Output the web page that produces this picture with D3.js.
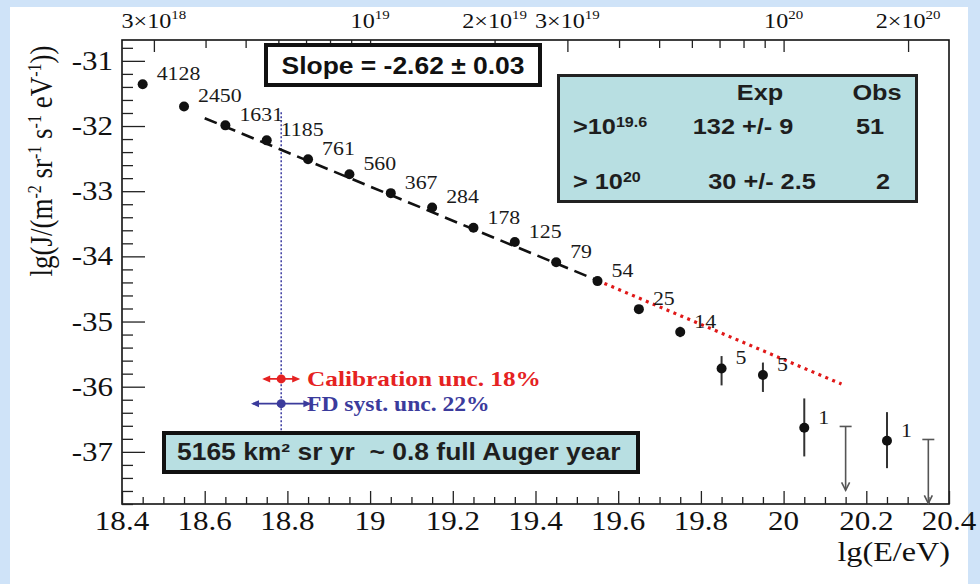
<!DOCTYPE html>
<html>
<head>
<meta charset="utf-8">
<script src="https://cdn.jsdelivr.net/npm/d3@7"></script>
<style>
  body { margin: 0; background: #cfe3f8; }
  text { white-space: pre; }
</style>
</head>
<body>
<script>
'use strict';

// energy bins (lg E/eV) and measured flux lg J
const lgE    = [18.45, 18.55, 18.65, 18.75, 18.85, 18.95, 19.05, 19.15, 19.25, 19.35,
                19.45, 19.55, 19.65, 19.75, 19.85, 19.95, 20.05, 20.25];
const lgJ    = [-31.36, -31.70, -31.99, -32.22, -32.51, -32.74, -33.03, -33.25, -33.56, -33.78,
                -34.09, -34.38, -34.81, -35.16, -35.72, -35.82, -36.63, -36.83];
const errUp  = [0, 0, 0, 0, 0, 0, 0, 0, 0, 0, 0, 0, 0.04, 0.08, 0.19, 0.19, 0.45, 0.44];
const errLo  = [0, 0, 0, 0, 0, 0, 0, 0, 0, 0, 0, 0, 0.04, 0.08, 0.26, 0.26, 0.44, 0.42];
const counts = ['4128', '2450', '1631', '1185', '761', '560', '367', '284', '178', '125',
                '79', '54', '25', '14', '5', '5', '1', '1'];

// upper limits (empty bins)
const ulE    = [20.15, 20.35];
const ulJ    = [-36.61, -36.81];
const ulTo   = [-37.59, -37.79];

// power law fit: dashed part (fitted range) and dotted extrapolation
const fitE   = [18.6, 19.55];
const fitJ   = [-31.88, -34.37];
const extE   = [19.55, 20.14];
const extJ   = [-34.37, -35.96];

// axis ticks
const xMajor = [18.4, 18.6, 18.8, 19, 19.2, 19.4, 19.6, 19.8, 20, 20.2, 20.4];
const yMajor = [-31, -32, -33, -34, -35, -36, -37];
const topLabels = [[3, 18], [1, 19], [2, 19], [3, 19], [1, 20], [2, 20]];

// energy scale uncertainty markers
const uncE   = 18.785;
const calJ   = -35.88;
const calHalf = 0.046;
const fdJ    = -36.26;
const fdHalf = 0.073;

const W = 980, H = 584;
const SX = 1.15; // reference text is slightly wide
const serif = "'Liberation Serif', 'Times New Roman', serif";
const sans = "'Liberation Sans', Arial, sans-serif";
const boxFill = '#b8dfe2';

const svg = d3.select('body').append('svg')
  .attr('width', W).attr('height', H);

// white slide panel
svg.append('rect')
  .attr('x', 10).attr('y', 7).attr('width', 958).attr('height', H - 7)
  .attr('fill', '#ffffff');

const x = d3.scaleLinear().domain([18.4, 20.4]).range([122, 949]);
const y = d3.scaleLinear().domain([-37.8, -30.68]).range([504, 40]);

// helper: text with horizontal stretch
function label(g, px, py, str, size, family, anchor, opts) {
  opts = opts || {};
  const t = g.append('text')
    .attr('transform', `translate(${px},${py}) scale(${SX},1)`)
    .attr('text-anchor', anchor || 'start')
    .style('font-family', family)
    .style('font-size', size + 'px')
    .style('font-weight', opts.bold ? 'bold' : 'normal')
    .attr('fill', opts.color || '#111');
  if (str !== null) t.text(str);
  return t;
}

// axes frame
svg.append('rect')
  .attr('x', x(18.4)).attr('y', y(-30.68))
  .attr('width', x(20.4) - x(18.4)).attr('height', y(-37.8) - y(-30.68))
  .attr('fill', 'none').attr('stroke', '#111').attr('stroke-width', 1.6);

// bottom axis
const xMinor = d3.range(18.45, 20.4, 0.05).map(v => +v.toFixed(2))
  .filter(v => !xMajor.some(m => Math.abs(m - v) < 1e-6));
svg.append('g').attr('transform', `translate(0,${y(-37.8)})`)
  .call(d3.axisTop(x).tickValues(xMinor).tickSize(7).tickFormat(''))
  .call(g => g.select('.domain').remove())
  .call(g => g.selectAll('line').attr('stroke', '#222').attr('stroke-width', 1.3));
svg.append('g').attr('transform', `translate(0,${y(-37.8)})`)
  .call(d3.axisTop(x).tickValues(xMajor).tickSize(13).tickFormat(''))
  .call(g => g.select('.domain').remove())
  .call(g => g.selectAll('line').attr('stroke', '#222').attr('stroke-width', 1.3));
xMajor.forEach(v => label(svg, x(v), 530, d3.format('')(v), 27, serif, 'middle'));

// left axis
const yMinor = d3.range(-37.8, -30.7, 0.2).map(v => +v.toFixed(1))
  .filter(v => !yMajor.some(m => Math.abs(m - v) < 1e-6));
svg.append('g').attr('transform', `translate(${x(18.4)},0)`)
  .call(d3.axisRight(y).tickValues(yMinor).tickSize(11).tickFormat(''))
  .call(g => g.select('.domain').remove())
  .call(g => g.selectAll('line').attr('stroke', '#222').attr('stroke-width', 1.3));
svg.append('g').attr('transform', `translate(${x(18.4)},0)`)
  .call(d3.axisRight(y).tickValues(yMajor).tickSize(23).tickFormat(''))
  .call(g => g.select('.domain').remove())
  .call(g => g.selectAll('line').attr('stroke', '#222').attr('stroke-width', 1.3));
yMajor.forEach(v => label(svg, 113, y(v) + 9, '-' + Math.abs(v), 27, serif, 'end'));

// top axis: energy in eV
const topTicks = [];
[18, 19, 20].forEach(n => {
  for (let k = 1; k < 10; k++) {
    const v = Math.log10(k) + n;
    if (v >= 18.4 && v <= 20.4) topTicks.push({ v: v, big: k === 1 || k === 2 || k === 3 });
  }
});
svg.append('g').attr('transform', `translate(0,${y(-30.68)})`)
  .call(d3.axisBottom(x).tickValues(topTicks.map(d => d.v)).tickSize(8).tickFormat(''))
  .call(g => g.select('.domain').remove())
  .call(g => g.selectAll('line')
    .attr('y2', (d) => topTicks.find(t => t.v === d).big ? 12 : 8)
    .attr('stroke', '#222').attr('stroke-width', 1.3));
topLabels.forEach(([k, n]) => {
  const t = label(svg, x(Math.log10(k) + n), 28, null, 21, serif, 'middle');
  if (k !== 1) t.append('tspan').text(k + '\u00d7');
  t.append('tspan').text('10');
  t.append('tspan').attr('dy', -9).style('font-size', '13px').text(n);
});

// axis titles
label(svg, 950, 561, 'lg(E/eV)', 28, serif, 'end');
const yt = svg.append('text')
  .attr('transform', 'translate(52,161) rotate(-90) scale(1,1.15)')
  .attr('text-anchor', 'middle')
  .style('font-family', serif).style('font-size', '27px').attr('fill', '#111');
yt.append('tspan').text('lg(J/(m');
[['-2', ' sr'], ['-1', ' s'], ['-1', ' eV'], ['-1', '))']].forEach(([sup, rest]) => {
  yt.append('tspan').attr('dy', -10).style('font-size', '16px').text(sup);
  yt.append('tspan').attr('dy', 10).text(rest);
});

// vertical reference line at the energy uncertainty markers
svg.append('line')
  .attr('x1', x(uncE)).attr('x2', x(uncE))
  .attr('y1', y(-31.79)).attr('y2', y(-36.9))
  .attr('stroke', '#3a3aa0').attr('stroke-width', 1.5)
  .attr('stroke-dasharray', '2,2');

// fit line
const line = d3.line().x(d => x(d[0])).y(d => y(d[1]));
svg.append('path')
  .datum(d3.zip(fitE, fitJ))
  .attr('d', line)
  .attr('fill', 'none').attr('stroke', '#111').attr('stroke-width', 2.6)
  .attr('stroke-dasharray', '13,7');
svg.append('path')
  .datum(d3.zip(extE, extJ))
  .attr('d', line)
  .attr('fill', 'none').attr('stroke', '#e01818').attr('stroke-width', 3.2)
  .attr('stroke-dasharray', '3,4.5');

// error bars
const pts = lgE.map((e, i) => ({ e: e, j: lgJ[i], up: errUp[i], lo: errLo[i], n: counts[i] }));
svg.selectAll('.err')
  .data(pts.filter(d => d.up > 0))
  .enter().append('line')
  .attr('class', 'err')
  .attr('x1', d => x(d.e)).attr('x2', d => x(d.e))
  .attr('y1', d => y(d.j + d.up)).attr('y2', d => y(d.j - d.lo))
  .attr('stroke', '#333').attr('stroke-width', 2);

// upper limits
const uls = ulE.map((e, i) => ({ e: e, j: ulJ[i], to: ulTo[i] }));
const ulG = svg.selectAll('.ul').data(uls).enter().append('g').attr('class', 'ul')
  .attr('stroke', '#555').attr('stroke-width', 1.6).attr('fill', 'none');
ulG.append('line')
  .attr('x1', d => x(d.e) - 6).attr('x2', d => x(d.e) + 6)
  .attr('y1', d => y(d.j)).attr('y2', d => y(d.j));
ulG.append('line')
  .attr('x1', d => x(d.e)).attr('x2', d => x(d.e))
  .attr('y1', d => y(d.j)).attr('y2', d => y(d.to));
ulG.append('path')
  .attr('d', d => `M${x(d.e) - 4},${y(d.to) - 8} L${x(d.e)},${y(d.to)} L${x(d.e) + 4},${y(d.to) - 8}`);

// data points
svg.selectAll('.dot')
  .data(pts)
  .enter().append('circle')
  .attr('class', 'dot')
  .attr('cx', d => x(d.e)).attr('cy', d => y(d.j))
  .attr('r', 5).attr('fill', '#111');

// event counts
pts.forEach(d => label(svg, x(d.e) + 14, y(d.j) - 4, d.n, 19, serif, 'start', { color: '#1a1a1a' }));

// uncertainty markers
function uncMarker(j, half, color, txt, size) {
  const g = svg.append('g');
  const cy = y(j);
  g.append('line')
    .attr('x1', x(uncE - half) + 2).attr('x2', x(uncE + half) - 2)
    .attr('y1', cy).attr('y2', cy)
    .attr('stroke', color).attr('stroke-width', 1.6);
  [-1, 1].forEach(s => {
    const tip = x(uncE + s * half);
    g.append('path')
      .attr('d', `M${tip},${cy} L${tip - s * 8},${cy - 3.5} L${tip - s * 8},${cy + 3.5} Z`)
      .attr('fill', color);
  });
  g.append('circle').attr('cx', x(uncE)).attr('cy', cy).attr('r', 4.5).attr('fill', color);
  label(svg, 307, cy + 7, txt, size, serif, 'start', { bold: true, color: color });
}
uncMarker(calJ, calHalf, '#e52222', 'Calibration unc. 18%', 22);
uncMarker(fdJ, fdHalf, '#3b3b9c', 'FD syst. unc. 22%', 20.5);

// slope box
svg.append('rect')
  .attr('x', 266).attr('y', 45).attr('width', 274).attr('height', 40)
  .attr('fill', '#fff').attr('stroke', '#111').attr('stroke-width', 4);
label(svg, 403, 74, 'Slope = -2.62 \u00b1 0.03', 23, sans, 'middle', { bold: true });

// expected vs observed table
svg.append('rect')
  .attr('x', 558.5).attr('y', 75.5).attr('width', 358).attr('height', 126)
  .attr('fill', boxFill).attr('stroke', '#222').attr('stroke-width', 3);
const tb = { bold: true, color: '#1e1e1e' };
label(svg, 760, 100, 'Exp', 22, sans, 'middle', tb);
label(svg, 877, 100, 'Obs', 22, sans, 'middle', tb);
let r1 = label(svg, 573, 134, null, 22, sans, 'start', tb);
r1.append('tspan').text('>10');
r1.append('tspan').attr('dy', -7).style('font-size', '14px').text('19.6');
label(svg, 743, 134, '132 +/- 9', 22, sans, 'middle', tb);
label(svg, 870, 134, '51', 22, sans, 'middle', tb);
let r2 = label(svg, 573, 189, null, 22, sans, 'start', tb);
r2.append('tspan').text('> 10');
r2.append('tspan').attr('dy', -7).style('font-size', '14px').text('20');
label(svg, 762, 189, '30 +/- 2.5', 22, sans, 'middle', tb);
label(svg, 883, 189, '2', 22, sans, 'middle', tb);

// exposure box
svg.append('rect')
  .attr('x', 164).attr('y', 433).attr('width', 474).attr('height', 39)
  .attr('fill', boxFill).attr('stroke', '#111').attr('stroke-width', 4);
label(svg, 177, 460, '5165 km\u00b2 sr yr  ~ 0.8 full Auger year', 23, sans, 'start', tb);
</script>
</body>
</html>
